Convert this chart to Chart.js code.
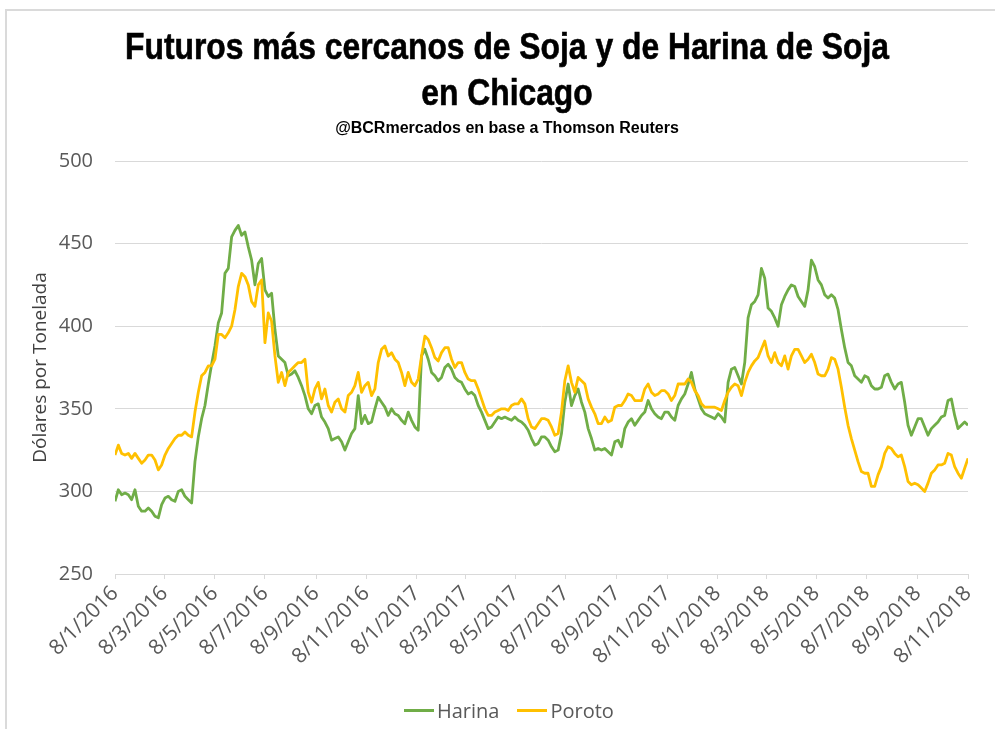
<!DOCTYPE html>
<html lang="es">
<head>
<meta charset="utf-8">
<title>Futuros más cercanos de Soja y de Harina de Soja en Chicago</title>
<script src="https://cdn.jsdelivr.net/npm/chart.js@4.4.1/dist/chart.umd.min.js"></script>
<style>
    html, body { margin: 0; padding: 0; background: #fff; }
    #marco {
        position: absolute; left: 5px; top: 9px; width: 990px; height: 720px;
        border-top: 2px solid #dadada; border-left: 2px solid #dadada; box-sizing: border-box;
    }
    #grafico { position: absolute; left: 0; top: 0; }
    .centrado {
        position: absolute; left: 507px; white-space: nowrap; text-align: center;
        font-family: 'Liberation Sans', Arial, sans-serif; font-weight: bold; color: #000;
    }
    #titulo {
        top: 24px; font-size: 37px; line-height: 46px;
        transform: translateX(-50%) scaleX(0.86);
        -webkit-text-stroke: 0.6px #000;
    }
    #subtitulo {
        top: 118px; font-size: 16px; line-height: 20px;
        transform: translateX(-50%);
    }
    #leyenda {
        position: absolute; left: 404px; top: 696px; height: 28px;
        display: flex; align-items: center;
        font-family: 'Open Sans', sans-serif; font-size: 20px; color: #595959;
    }
    #leyenda .item { display: flex; align-items: center; margin-right: 18px; }
    #leyenda .linea { display: inline-block; width: 30px; height: 3px; margin-right: 3px; }
</style>
</head>
<body>
<div id="marco"></div>
<canvas id="grafico" width="995" height="729"></canvas>
<div id="titulo" class="centrado">Futuros más cercanos de Soja y de Harina de Soja<br>en Chicago</div>
<div id="subtitulo" class="centrado">@BCRmercados en base a Thomson Reuters</div>
<div id="leyenda"></div>
<script>
// Etiquetas del eje X (d/m/aaaa)
const etiquetas = [
    '8/1/2016', '8/3/2016', '8/5/2016', '8/7/2016', '8/9/2016', '8/11/2016',
    '8/1/2017', '8/3/2017', '8/5/2017', '8/7/2017', '8/9/2017', '8/11/2017',
    '8/1/2018', '8/3/2018', '8/5/2018', '8/7/2018', '8/9/2018', '8/11/2018'
];

// Lecturas equiespaciadas entre 8/1/2016 y 8/11/2018 (USD por tonelada)
const harina = [
    294, 301, 298, 299, 298, 295, 301, 291, 288, 288,
    290, 288, 285, 284, 292, 296, 297, 295, 294, 300,
    301, 297, 295, 293, 318, 333, 344, 352, 365, 377,
    388, 402, 408, 432, 435, 454, 458, 461, 455, 457,
    448, 440, 425, 438, 441, 422, 418, 420, 398, 382,
    380, 378, 370, 371, 373, 369, 364, 358, 350, 347,
    352, 353, 345, 342, 338, 331, 332, 333, 330, 325,
    330, 335, 338, 358, 341, 346, 341, 342, 350, 357,
    354, 351, 346, 350, 347, 346, 343, 341, 348, 343,
    339, 337, 382, 386, 380, 372, 370, 367, 369, 375,
    377, 374, 369, 367, 366, 362, 359, 360, 358, 352,
    348, 343, 338, 339, 342, 345, 344, 345, 344, 343,
    345, 343, 342, 340, 337, 332, 328, 329, 333, 333,
    331, 327, 324, 325, 335, 354, 365, 352, 358, 362,
    354, 348, 338, 332, 325, 326, 325, 326, 324, 322,
    330, 331, 327, 338, 342, 344, 340, 343, 346, 348,
    355, 350, 347, 345, 344, 348, 348, 345, 343, 352,
    356, 359, 365, 372, 362, 356, 350, 347, 346, 345,
    344, 347, 345, 342, 366, 374, 375, 370, 365, 378,
    405, 413, 415, 419, 435, 429, 411, 409, 405, 400,
    413, 418, 422, 425, 424, 418, 415, 412, 422, 440,
    436, 428, 425, 419, 417, 419, 417, 410, 398, 387,
    378, 376, 370, 368, 366, 370, 369, 364, 362, 362,
    363, 370, 371, 366, 362, 365, 366, 354, 340, 334,
    339, 344, 344, 339, 334, 338, 340, 342, 345, 346,
    355, 356, 346, 338, 340, 342, 340
];
const poroto = [
    322, 328, 323, 322, 323, 320, 323, 320, 317, 319,
    322, 322, 319, 313, 316, 322, 326, 329, 332, 334,
    334, 336, 334, 333, 348, 360, 370, 372, 376, 376,
    380, 395, 395, 393, 396, 400, 410, 424, 432, 430,
    425, 415, 412, 425, 428, 390, 408, 403, 382, 366,
    372, 364, 372, 374, 376, 378, 378, 380, 360, 354,
    362, 366, 356, 362, 352, 348, 354, 356, 350, 348,
    358, 360, 364, 372, 360, 364, 366, 358, 362, 378,
    386, 388, 382, 384, 380, 378, 372, 364, 372, 366,
    364, 368, 382, 394, 392, 387, 381, 379, 384, 387,
    387, 380, 375, 378, 378, 372, 368, 367, 367, 362,
    356, 350, 346, 346, 348, 349, 350, 350, 349, 352,
    353, 353, 356, 353, 344, 339, 338, 341, 344, 344,
    343, 339, 334, 335, 348, 367, 376, 366, 360, 369,
    367, 365, 356, 351, 347, 341, 341, 345, 342, 343,
    351, 352, 352, 355, 359, 358, 355, 355, 355, 362,
    365, 360, 358, 359, 361, 361, 359, 355, 358, 365,
    365, 365, 368, 366, 361, 358, 353, 351, 351, 351,
    351, 350, 349, 355, 360, 363, 365, 364, 358, 366,
    372, 376, 379, 381, 386, 391, 382, 378, 384, 378,
    376, 382, 374, 382, 386, 386, 382, 378, 380, 383,
    378, 371, 370, 370, 374, 381, 380, 374, 363, 351,
    340, 332, 325, 318, 312, 311, 311, 303, 303, 310,
    315, 323, 327, 326, 323, 321, 322, 315, 306, 304,
    305, 304, 302, 300, 305, 311, 313, 316, 316, 317,
    323, 322, 315, 311, 308, 314, 320
];

const ticksY = [250, 300, 350, 400, 450, 500];

// días desde la primera etiqueta
const dia = (txt) => {
    const [d, m, a] = txt.split('/').map(Number);
    return (Date.UTC(a, m - 1, d) - Date.UTC(2016, 0, 8)) / 864e5;
};
const diaFinal = dia(etiquetas[etiquetas.length - 1]);
const aPuntos = (serie) => {
    const paso = diaFinal / (serie.length - 1);
    return serie.map((v, i) => ({ x: i * paso, y: v }));
};

const fuente = "'Open Sans', sans-serif";
const gris = '#d9d9d9';
const texto = '#595959';

const grafico = new Chart(document.getElementById('grafico'), {
    type: 'line',
    data: {
        datasets: [
            {
                label: 'Harina',
                data: aPuntos(harina),
                borderColor: '#70AD47',
                backgroundColor: '#70AD47',
                order: 1
            },
            {
                label: 'Poroto',
                data: aPuntos(poroto),
                borderColor: '#FFC000',
                backgroundColor: '#FFC000',
                order: 0
            }
        ]
    },
    options: {
        responsive: false,
        animation: false,
        parsing: false,
        elements: {
            line: { borderWidth: 2.8, tension: 0, borderJoinStyle: 'round' },
            point: { radius: 0 }
        },
        layout: { padding: { top: 161, right: 27, bottom: 0, left: 0 } },
        scales: {
            x: {
                type: 'linear',
                min: 0,
                max: diaFinal,
                afterBuildTicks: (scale) => {
                    scale.ticks = etiquetas.map(e => ({ value: dia(e) }));
                },
                afterFit: (scale) => { scale.height = 155; },
                ticks: {
                    autoSkip: false,
                    maxRotation: 45,
                    minRotation: 45,
                    padding: 2,
                    color: texto,
                    font: { family: fuente, size: 21 },
                    callback: (v) => etiquetas.find(e => dia(e) === v) || ''
                },
                grid: { drawOnChartArea: false, color: gris, tickLength: 5 },
                border: { color: gris }
            },
            y: {
                min: 250,
                max: 500,
                afterBuildTicks: (scale) => {
                    scale.ticks = ticksY.map(v => ({ value: v }));
                },
                afterFit: (scale) => { scale.width = 115; },
                ticks: {
                    padding: 22,
                    color: texto,
                    font: { family: fuente, size: 20 }
                },
                grid: { color: gris, drawTicks: false },
                border: { display: false },
                title: {
                    display: true,
                    text: 'Dólares por Tonelada',
                    color: '#404040',
                    font: { family: fuente, size: 19 },
                    padding: { top: 29, bottom: 0 }
                }
            }
        },
        plugins: {
            legend: { display: false },
            tooltip: { enabled: false }
        }
    }
});

// Leyenda armada con las series del gráfico
const leyenda = document.getElementById('leyenda');
grafico.data.datasets.forEach(ds => {
    const item = document.createElement('span');
    item.className = 'item';
    const linea = document.createElement('span');
    linea.className = 'linea';
    linea.style.background = ds.borderColor;
    item.appendChild(linea);
    item.appendChild(document.createTextNode(ds.label));
    leyenda.appendChild(item);
});
</script>
</body>
</html>
